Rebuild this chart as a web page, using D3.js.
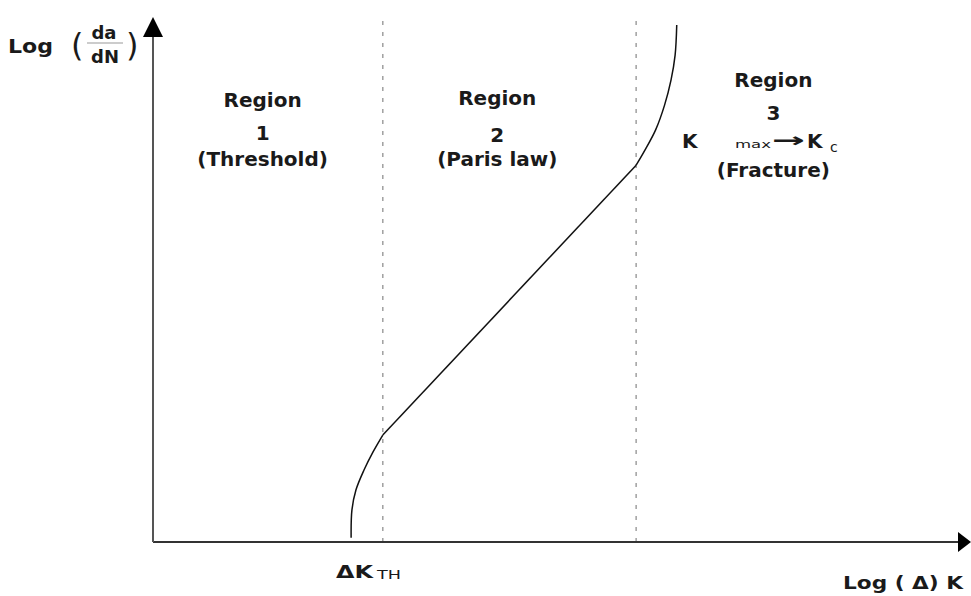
<!DOCTYPE html>
<html>
<head>
<meta charset="utf-8">
<script src="https://cdn.jsdelivr.net/npm/d3@7"></script>
<style>
  body { margin: 0; background: #fff; }
  svg text { font-family: "DejaVu Sans", "Liberation Sans", sans-serif; fill: #1a1a1a; }
</style>
</head>
<body>
<div id="chart"></div>
<script>
// Crack growth curve in arbitrary log units (0-100 on both axes), split by region
const thresholdDK = [24.4, 24.5, 25.0, 26.0, 27.1, 28.3];
const thresholdRate = [0.8, 6.1, 9.9, 13.7, 17.1, 20.3];
const parisDK = [28.3, 59.5];
const parisRate = [20.3, 71.5];
const fractureDK = [59.5, 60.6, 61.9, 63.0, 63.8, 64.3, 64.5];
const fractureRate = [71.5, 74.4, 78.2, 82.9, 87.7, 92.4, 98.1];

// Region boundaries (dashed lines)
const boundaries = [28.3, 59.5];

// Region labels
const regionNames = ["Region", "Region", "Region"];
const regionNumbers = ["1", "2", "3"];
const regionNotes = ["(Threshold)", "(Paris law)", "(Fracture)"];
const regionCenters = [13.5, 42.4, 76.4];

const width = 971, height = 596;

let x = d3.scaleLinear().domain([0, 100]).range([153, 965]);
let y = d3.scaleLinear().domain([0, 100]).range([542, 15]);

let svg = d3.select("#chart").append("svg")
    .attr("width", width)
    .attr("height", height);

// Dashed region boundaries
svg.selectAll(".boundary")
    .data(boundaries)
    .enter().append("line")
    .attr("class", "boundary")
    .attr("x1", d => x(d)).attr("x2", d => x(d))
    .attr("y1", y(0)).attr("y2", y(99))
    .style("stroke", "#a0a0a0")
    .style("stroke-width", 1.5)
    .style("stroke-dasharray", "4,7");

// Axes with no ticks, arrows drawn on top
let xAxis = d3.axisBottom(x).tickValues([]).tickSizeOuter(0);
let yAxis = d3.axisLeft(y).tickValues([]).tickSizeOuter(0);
let gx = svg.append("g").attr("transform", "translate(0," + y(0) + ")").call(xAxis);
let gy = svg.append("g").attr("transform", "translate(" + x(0) + ",0)").call(yAxis);
gx.select(".domain").attr("d", "M" + x(0) + ",0H961").style("stroke", "#333").style("stroke-width", 2);
gy.select(".domain").attr("d", "M0," + y(0) + "V35").style("stroke", "#555").style("stroke-width", 2);

// Arrow heads
svg.append("path")
    .attr("d", "M" + (x(0) - 10) + ",37L" + x(0) + ",17L" + (x(0) + 10) + ",37Z")
    .style("fill", "#000");
svg.append("path")
    .attr("d", "M958," + (y(0) - 10) + "L971," + y(0) + "L958," + (y(0) + 10) + "Z")
    .style("fill", "#000");

// The crack growth curve, one path per region
let segments = [
    {dk: thresholdDK, rate: thresholdRate},
    {dk: parisDK, rate: parisRate},
    {dk: fractureDK, rate: fractureRate}
];
let line = d3.line()
    .curve(d3.curveCatmullRom.alpha(0.5))
    .x(d => x(d.dk))
    .y(d => y(d.rate));
for (let seg of segments) {
    let pts = seg.dk.map((d, i) => ({dk: d, rate: seg.rate[i]}));
    svg.append("path")
        .datum(pts)
        .attr("d", line)
        .style("fill", "none")
        .style("stroke", "#111")
        .style("stroke-width", 1.5);
}

// Region labels
let nameBase = [107, 105, 87];
let numBase = [140, 142, 120];
let noteBase = [166, 166, 177];
regionCenters.forEach((cx, i) => {
    svg.append("text").attr("x", x(cx)).attr("y", nameBase[i]).attr("text-anchor", "middle")
        .style("font-size", "20px").style("font-weight", "bold").text(regionNames[i]);
    svg.append("text").attr("x", x(cx)).attr("y", numBase[i]).attr("text-anchor", "middle")
        .style("font-size", "20px").style("font-weight", "bold").text(regionNumbers[i]);
    svg.append("text").attr("x", x(cx)).attr("y", noteBase[i]).attr("text-anchor", "middle")
        .style("font-size", "20px").style("font-weight", "bold").text(regionNotes[i]);
});

// K max -> Kc in region 3
svg.append("text").attr("x", 682).attr("y", 148)
    .style("font-size", "20px").style("font-weight", "bold").text("K");
svg.append("text").attr("x", 735).attr("y", 148).attr("textLength", 36).attr("lengthAdjust", "spacingAndGlyphs")
    .style("font-size", "11px").text("max");
svg.append("text").attr("x", 772).attr("y", 147).attr("textLength", 33).attr("lengthAdjust", "spacingAndGlyphs")
    .style("font-size", "20px").style("font-weight", "bold").text("\u2192");
svg.append("text").attr("x", 807).attr("y", 148)
    .style("font-size", "20px").style("font-weight", "bold").text("K");
svg.append("text").attr("x", 830).attr("y", 152)
    .style("font-size", "14px").text("c");

// Y axis title: Log (da/dN)
svg.append("text").attr("x", 8).attr("y", 53).attr("textLength", 45).attr("lengthAdjust", "spacingAndGlyphs")
    .style("font-size", "20px").style("font-weight", "bold").text("Log");
svg.append("text").attr("x", 71).attr("y", 56)
    .style("font-size", "32px").text("(");
svg.append("text").attr("x", 126).attr("y", 56)
    .style("font-size", "32px").text(")");
svg.append("text").attr("x", 104).attr("y", 39).attr("text-anchor", "middle")
    .style("font-size", "18px").style("font-weight", "bold").text("da");
svg.append("line").attr("x1", 87).attr("x2", 123).attr("y1", 43).attr("y2", 43)
    .style("stroke", "#999").style("stroke-width", 1);
svg.append("text").attr("x", 105).attr("y", 63).attr("text-anchor", "middle")
    .style("font-size", "18px").style("font-weight", "bold").text("dN");

// Threshold label under the x axis
svg.append("text").attr("x", 336).attr("y", 578).attr("textLength", 37).attr("lengthAdjust", "spacingAndGlyphs")
    .style("font-size", "18px").style("font-weight", "bold").text("\u0394K");
svg.append("text").attr("x", 377).attr("y", 579).attr("textLength", 24).attr("lengthAdjust", "spacingAndGlyphs")
    .style("font-size", "12px").text("TH");

// X axis title
svg.append("text").attr("x", 843).attr("y", 589).attr("textLength", 120).attr("lengthAdjust", "spacingAndGlyphs")
    .style("font-size", "18px").style("font-weight", "bold").text("Log ( \u0394) K");
</script>
</body>
</html>
